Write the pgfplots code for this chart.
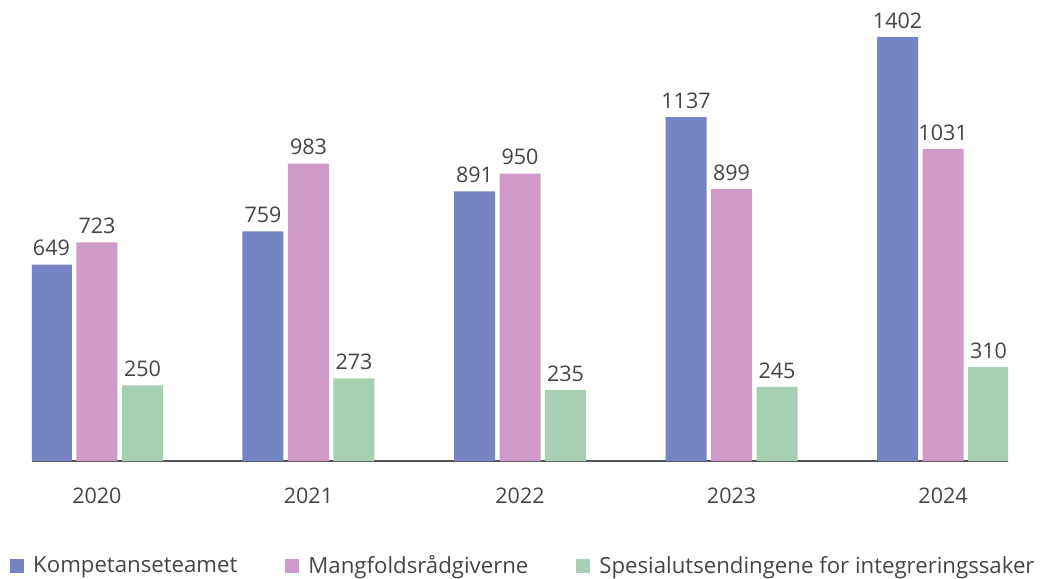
\documentclass[border=0pt]{standalone}
\usepackage{fontspec}
\setmainfont{Open Sans}
\usepackage{pgfplots}
\pgfplotsset{compat=1.18}
\definecolor{cblue}{HTML}{7585C2}
\definecolor{cpink}{HTML}{CF9AC7}
\definecolor{cgreen}{HTML}{A7D0B3}
\definecolor{ctext}{HTML}{454545}
\definecolor{caxis}{HTML}{555555}
\begin{document}
\begin{tikzpicture}[x=1pt,y=1pt]
\useasboundingbox (0,0) rectangle (1043,578);
\begin{axis}[
  at={(32pt,117pt)}, anchor=south west,
  scale only axis, width=976pt, height=441pt,
  xmin=-0.307, xmax=4.307, ymin=0, ymax=1458,
  ybar=4.5pt, bar width=41pt,
  axis x line=bottom, axis y line=none,
  axis line style={caxis, line width=1.6pt, -},
  xtick={0,1,2,3,4}, xticklabels={2020,2021,2022,2023,2024},
  major tick length=0pt,
  xticklabel style={font=\fontsize{21.5}{24}\selectfont, text=ctext, yshift=-23pt},
  /pgf/number format/assume math mode=true,
  /pgf/number format/1000 sep={},
  nodes near coords,
  every node near coord/.append style={font=\fontsize{21.5}{24}\selectfont, text=ctext, yshift=5pt},
  legend columns=3,
  legend style={at={(-0.0225,-0.237)}, anchor=west, draw=none, fill=none, inner sep=0pt,
    font=\fontsize{22.2}{24}\selectfont, text=ctext,
    /tikz/every odd column/.append style={column sep=7pt},
    /tikz/every even column/.append style={column sep=46pt}},
  legend image code/.code={\fill[#1] (0pt,-7pt) rectangle (14pt,7pt);},
]
\addplot[fill=cblue, draw=none] coordinates {(0,649) (1,759) (2,891) (3,1137) (4,1402)};
\addplot[fill=cpink, draw=none] coordinates {(0,723) (1,983) (2,950) (3,899) (4,1031)};
\addplot[fill=cgreen, draw=none] coordinates {(0,250) (1,273) (2,235) (3,245) (4,310)};
\legend{Kompetanseteamet, Mangfoldsrådgiverne, Spesialutsendingene for integreringssaker}
\end{axis}
\end{tikzpicture}
\end{document}
